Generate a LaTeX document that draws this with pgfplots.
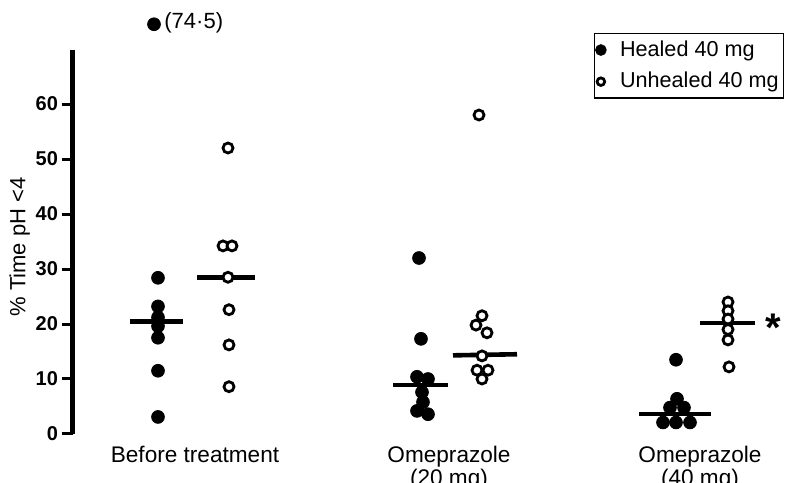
\documentclass[border=0pt]{standalone}
\usepackage{pgfplots}
\pgfplotsset{compat=1.18}
\usepackage{fontspec}
\setmainfont{Liberation Sans}
\begin{document}
\begin{tikzpicture}
\path[use as bounding box] (0,0) rectangle (393.5pt,241pt);
\begin{axis}[
  at={(36.25pt,24pt)}, anchor=south west,
  scale only axis, width=357.25pt, height=192pt,
  xmin=72.5, xmax=787, ymin=0, ymax=69.82,
  axis x line=none,
  axis y line*=left,
  y axis line style={line width=2.5pt},
  ytick={0,10,20,30,40,50,60},
  tick align=outside, major tick length=5.5pt,
  ytick style={line width=1.5pt, black},
  /pgf/number format/assume math mode=true,
  yticklabel style={font=\bfseries\fontsize{10}{11}\selectfont, inner xsep=1pt, xshift=-0.6pt},
  clip=false,
  ylabel={\% Time pH <4},
  ylabel style={at={(axis description cs:-0.074,0.487)}, anchor=center, font=\fontsize{11}{12}\selectfont},
  legend style={at={(axis description cs:0.730,1.044)}, anchor=north west, draw=black, line width=0.6pt,
    font=\fontsize{10.8}{12}\selectfont, inner xsep=0.5pt, inner ysep=1.5pt, row sep=2.5pt, column sep=5pt},
  legend cell align=left,
]
% median lines
\addplot[line width=2.3pt, forget plot] coordinates {(130,20.5) (183,20.5)};
\addplot[line width=2.3pt, forget plot] coordinates {(197,28.5) (255,28.5)};
\addplot[line width=2.3pt, forget plot] coordinates {(393,8.9) (448,8.9)};
\addplot[line width=2.3pt, forget plot] coordinates {(453,14.3) (517,14.5)};
\addplot[line width=2.3pt, forget plot] coordinates {(639,3.6) (711,3.6)};
\addplot[line width=2.3pt, forget plot] coordinates {(700,20.2) (755,20.2)};
% healed
\addplot[only marks, mark=*, mark size=3.2pt, black, mark options={fill=black},
  legend image post style={mark size=2.6pt}] coordinates {
 (154,74.5) (158,28.4) (158,23.2) (158,21.2) (158,19.6) (158,17.5) (158,11.5) (158,3.1)
 (419,32.0) (421,17.3) (417,10.4) (428,10.0) (422,7.6) (423,5.8) (417,4.2) (428,3.6)
 (676,13.5) (677,6.4) (670,4.8) (684,4.8) (663,2.1) (676,2.1) (690,2.1)
};
\addlegendentry{Healed 40 mg}
% unhealed
\addplot[only marks, mark=*, mark size=2.5pt, mark options={fill=white, draw=black, line width=1.4pt},
  legend image post style={mark size=1.9pt}] coordinates {
 (228,52.0) (223,34.2) (232,34.2) (228,28.5) (229,22.6) (229,16.2) (229,8.6)
 (479,58.0) (482,21.5) (476,19.8) (487,18.4) (482,14.2) (477,11.6) (488,11.6) (482,10.0)
 (728,24.0) (728,22.4) (728,20.9) (728,19.0) (728,17.1) (729,12.2)
};
\addlegendentry{Unhealed 40 mg}
% texts
\node[anchor=west, font=\fontsize{11}{12}\selectfont, inner sep=1pt] at (axis cs:162,74.8) {(74·5)};
\node[anchor=base, font=\bfseries\fontsize{20}{20}\selectfont, inner sep=0pt] at (axis cs:773,16.8) {*};
\node[anchor=north, align=center, font=\fontsize{11.3}{10}\selectfont, inner sep=0pt] at (axis cs:195,-2.1) {Before treatment};
\node[anchor=north, align=center, font=\fontsize{11.3}{10}\selectfont, inner sep=0pt] at (axis cs:449,-2.1) {Omeprazole\\(20 mg)};
\node[anchor=north, align=center, font=\fontsize{11.3}{10}\selectfont, inner sep=0pt] at (axis cs:700,-2.1) {Omeprazole\\(40 mg)};
\end{axis}
\end{tikzpicture}
\end{document}
